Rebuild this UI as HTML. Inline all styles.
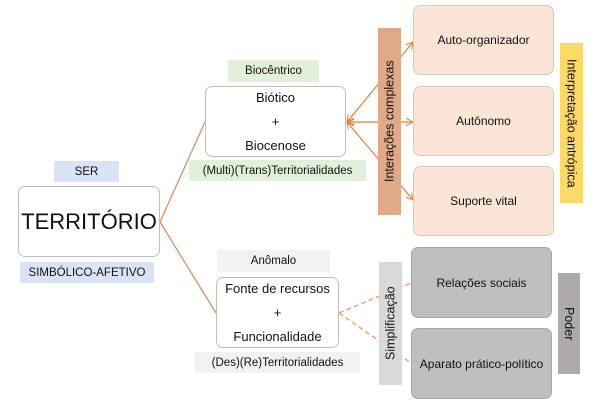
<!DOCTYPE html>
<html><head><meta charset="utf-8"><style>
body{margin:0;width:606px;height:404px;background:#fff;position:relative;overflow:hidden;font-family:"Liberation Sans",sans-serif;color:#111}
.a{position:absolute;box-sizing:border-box;display:flex;align-items:center;justify-content:center;text-align:center}
.lb{font-size:11.5px}
.box{background:#fff;border:1px solid #bfbfbf;border-radius:7px}
.pe{background:#fbe5d6;border:1px solid #d9cabd;border-radius:7px;font-size:12px}
.gr{background:#bfbfbf;border:1px solid #a6a6a6;border-radius:7px;font-size:12px}
.v{writing-mode:vertical-rl;font-size:12.5px}
.up{transform:rotate(180deg)}
</style></head><body>
<svg width="606" height="404" style="position:absolute;left:0;top:0">
<defs><marker id="m" markerWidth="8" markerHeight="8" refX="7" refY="4" orient="auto-start-reverse" markerUnits="userSpaceOnUse"><path d="M0,0 L7,4 L0,8" fill="none" stroke="#ed7d31" stroke-width="1"/></marker></defs>
<g stroke="#d98a55" stroke-width="1.2" fill="none">
<line x1="160" y1="222" x2="205" y2="122"/>
<line x1="160" y1="222" x2="216" y2="313"/>
</g>
<g stroke="#ed7d31" stroke-width="1.2" fill="none">
<line x1="347" y1="122" x2="413" y2="42" marker-start="url(#m)" marker-end="url(#m)"/>
<line x1="347" y1="122" x2="413" y2="122" marker-start="url(#m)" marker-end="url(#m)"/>
<line x1="347" y1="122" x2="413" y2="200" marker-start="url(#m)" marker-end="url(#m)"/>
</g>
<g stroke="#f4a46a" stroke-width="1.5" stroke-dasharray="5,3" fill="none">
<line x1="339" y1="313" x2="411" y2="283"/>
<line x1="339" y1="313" x2="411" y2="363"/>
</g>
</svg>
<div class="a lb" style="left:54px;top:161px;width:65px;height:21px;background:#dae3f3">SER</div>
<div class="a box" style="left:18px;top:186px;width:142px;height:71px;font-size:22px">TERRITÓRIO</div>
<div class="a lb" style="left:20px;top:262px;width:134px;height:21px;background:#dae3f3">SIMBÓLICO-AFETIVO</div>
<div class="a lb" style="left:228px;top:60px;width:91px;height:22px;background:#e2f0d9">Biocêntrico</div>
<div class="a box" style="left:205px;top:86px;width:141px;height:71px;flex-direction:column;font-size:13px;line-height:24px;justify-content:center">Biótico<br>+<br>Biocenose</div>
<div class="a lb" style="left:189px;top:160px;width:177px;height:21px;background:#e2f0d9">(Multi)(Trans)Territorialidades</div>
<div class="a lb" style="left:217px;top:250px;width:113px;height:22px;background:#f2f2f2">Anômalo</div>
<div class="a box" style="left:216px;top:277px;width:123px;height:71px;font-size:13px;line-height:24px">Fonte de recursos<br>+<br>Funcionalidade</div>
<div class="a lb" style="left:195px;top:352px;width:165px;height:21px;background:#f2f2f2">(Des)(Re)Territorialidades</div>
<div class="a v up" style="left:378px;top:28px;width:23px;height:187px;background:#e0a987">Interações complexas</div>
<div class="a pe" style="left:413px;top:5px;width:141px;height:70px">Auto-organizador</div>
<div class="a pe" style="left:413px;top:86px;width:141px;height:70px">Autônomo</div>
<div class="a pe" style="left:413px;top:166px;width:141px;height:70px">Suporte vital</div>
<div class="a v" style="left:560px;top:43px;width:23px;height:160px;background:#ffd966">Interpretação antrópica</div>
<div class="a v up" style="left:379px;top:262px;width:23px;height:123px;background:#d9d9d9">Simplificação</div>
<div class="a gr" style="left:411px;top:247px;width:141px;height:71px">Relações sociais</div>
<div class="a gr" style="left:411px;top:328px;width:141px;height:71px">Aparato prático-político</div>
<div class="a v" style="left:558px;top:273px;width:22px;height:101px;background:#aeaaaa">Poder</div>
</body></html>
